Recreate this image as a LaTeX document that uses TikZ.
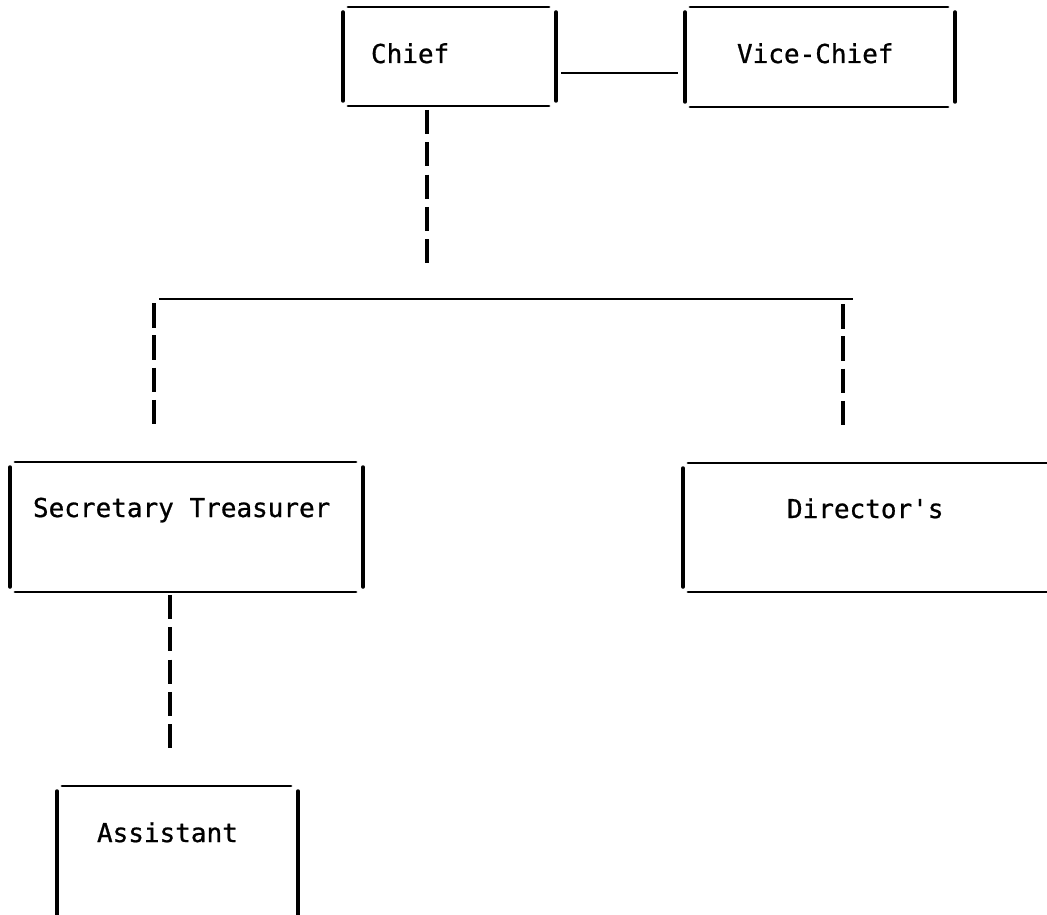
\documentclass[tikz,border=0pt]{standalone}
\usepackage{fontspec}
\newfontfamily\typefont{DejaVu Sans Mono}[FakeBold=0.8]
\begin{document}
\begin{tikzpicture}[x=1pt,y=-1pt,
  unit/.style={inner sep=0pt,outer sep=0pt,minimum width=#1},
  hside/.style={line width=2.8pt,line cap=round},
  vside/.style={line width=3.5pt,line cap=round},
  link/.style={line width=2.8pt},
  dashlink/.style={line width=3.3pt,dash pattern=on 24pt off 8.3pt},
  lbl/.style={inner sep=0pt,outer sep=0pt,anchor=base west,font=\typefont\fontsize{26}{30}\selectfont}]
\useasboundingbox (0,0) rectangle (1047,915);
\clip (0,0) rectangle (1047,915);

% an open-cornered box: top and bottom rules, plus two side bars
\newcommand\openbox[1]{%
  \draw[hside] ([xshift=5pt]#1.north west) -- ([xshift=-7pt]#1.north east);
  \draw[hside] ([xshift=5pt]#1.south west) -- ([xshift=-7pt]#1.south east);
  \draw[vside] ([yshift=-5pt]#1.north west) -- ([yshift=5pt]#1.south west);
  \draw[vside] ([yshift=-5pt]#1.north east) -- ([yshift=5pt]#1.south east);}

% boxes
\node[unit=213pt,minimum height=99pt]  (chief) at (449.5,56.5) {};
\node[unit=270pt,minimum height=100pt] (vice)  at (820,57) {};
\node[unit=353pt,minimum height=130pt] (sec)   at (186.5,527) {};
\node[unit=387pt,minimum height=129pt] (dir)   at (876.5,527.5) {};
\node[unit=241pt,minimum height=144pt] (asst)  at (177.5,858) {};
\openbox{chief}
\openbox{vice}
\openbox{sec}
\openbox{dir}
\openbox{asst}

% labels
\node[lbl] (chieft) at (371,63)  {Chief};
\node[lbl] (vicet)  at (737,63)  {Vice-Chief};
\node[lbl] (sect)   at (33,517)  {Secretary Treasurer};
\node[lbl] (dirt)   at (787,518) {Director's};
\node[lbl] (asstt)  at (97,842)  {Assistant};

% chief -- vice-chief
\draw[link] ([xshift=5pt,yshift=-16.5pt]chief.east) -- ([xshift=-7pt,yshift=-16pt]vice.west);

% chief down to the branch bar
\coordinate (barL) at (159,299);
\coordinate (barR) at (853,299);
\coordinate (trunk) at (427,264);
\draw[dashlink] ([xshift=-22.5pt,yshift=-4pt]chief.south) -- (trunk);
\draw[link] (barL) -- (barR);

% branches to secretary and directors
\coordinate (secup) at (154,425);
\coordinate (dirup) at (843,425);
\draw[dashlink,dash pattern=on 24.5pt off 7.8pt] ([xshift=-5pt,yshift=-4pt]barL) -- (secup);
\draw[dashlink,dash pattern=on 24.5pt off 7.8pt] ([xshift=-10pt,yshift=-5pt]barR) -- (dirup);

% secretary down to assistant
\coordinate (asstup) at (170,748);
\draw[dashlink,dash pattern=on 24pt off 8.25pt] ([xshift=-16.5pt,yshift=-3pt]sec.south) -- (asstup);
\end{tikzpicture}
\end{document}
